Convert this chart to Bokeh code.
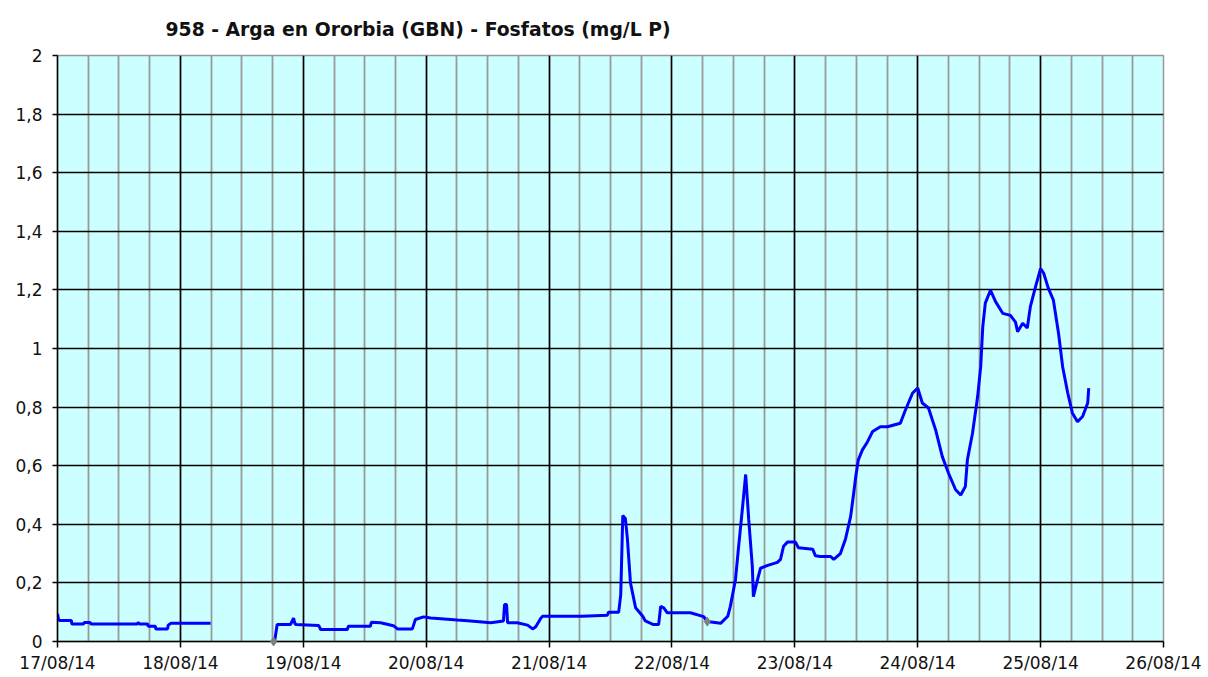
import pandas as pd
from bokeh.plotting import figure
from bokeh.models import FixedTicker, DatetimeTickFormatter, Range1d, ColumnDataSource, CustomJSTickFormatter
from bokeh.embed import file_html
from bokeh.resources import INLINE

title_text = "958 - Arga en Ororbia (GBN) - Fosfatos (mg/L P)"
start_date = "2014-08-17 00:00"
n_days = 9

# hours since 17/08/14 00:00 and values (mg/L P)
hours_a = [0, 0.2, 0.4, 2.7, 2.8, 5.1, 5.2, 6.4, 6.5, 15.6, 15.7, 16.0, 17.6, 17.7,
           19.1, 19.2, 21.5, 21.6, 22.1, 29.9]
values_a = [0.095, 0.075, 0.072, 0.072, 0.06, 0.06, 0.065, 0.065, 0.06, 0.06, 0.065, 0.06,
            0.06, 0.052, 0.052, 0.043, 0.043, 0.055, 0.062, 0.062]

hours_b = [42.4, 42.9, 45.5, 45.7, 46.1, 46.3, 46.5, 51.0, 51.4, 56.6, 56.8, 61.1, 61.3,
           63.1, 65.6, 66.4, 69.3, 69.9, 71.5, 72.9, 78.1, 80.7, 84.6, 87.1, 87.3, 87.7,
           87.9, 89.8, 91.8, 92.8, 93.4, 94.3, 94.7, 102.5, 107.4, 107.6, 109.6, 110.0,
           110.4, 110.9, 111.3, 111.9, 112.9, 114.3, 114.8, 116.4, 117.4, 117.8, 118.4,
           119.1, 121.1, 123.6, 126.2, 126.9, 129.5, 130.9, 131.4, 132.4, 133.0, 133.8,
           134.4, 135.0, 135.7, 135.9, 136.7, 137.3, 138.7, 140.6, 141.2, 141.8, 142.6,
           144.1, 144.7, 147.5, 148.0, 149.0, 151.0, 151.6, 152.9, 153.9, 154.9, 155.5,
           155.9, 156.4, 157.2, 158.2, 159.2, 160.7, 162.1, 164.6, 165.6, 167.0, 168.0,
           168.9, 170.1, 171.5, 172.8, 174.0, 175.4, 176.4, 177.3, 177.7, 178.7, 179.7,
           180.3, 180.7, 181.2, 182.2, 183.2, 184.6, 186.1, 187.1, 187.5, 188.5, 189.4,
           190.0, 191.0, 192.0, 192.6, 193.5, 194.5, 195.5, 196.3, 197.3, 198.2, 199.2,
           200.2, 201.2, 201.4]
values_b = [0.0, 0.058, 0.058, 0.065, 0.08, 0.065, 0.058, 0.055, 0.041, 0.041, 0.052, 0.052,
            0.066, 0.064, 0.054, 0.043, 0.043, 0.075, 0.084, 0.08, 0.073, 0.07, 0.064, 0.07,
            0.126, 0.126, 0.064, 0.064, 0.056, 0.043, 0.05, 0.077, 0.086, 0.086, 0.09, 0.10,
            0.10, 0.16, 0.43, 0.42, 0.35, 0.20, 0.115, 0.086, 0.07, 0.058, 0.058, 0.12, 0.115,
            0.098, 0.098, 0.098, 0.085, 0.068, 0.062, 0.086, 0.12, 0.21, 0.32, 0.46, 0.57,
            0.415, 0.256, 0.153, 0.21, 0.25, 0.26, 0.27, 0.28, 0.325, 0.34, 0.34, 0.32,
            0.315, 0.293, 0.29, 0.29, 0.28, 0.30, 0.35, 0.427, 0.507, 0.563, 0.62, 0.654,
            0.682, 0.717, 0.733, 0.733, 0.745, 0.79, 0.848, 0.865, 0.814, 0.797, 0.722,
            0.631, 0.575, 0.518, 0.50, 0.529, 0.62, 0.711, 0.836, 0.938, 1.074, 1.155, 1.199,
            1.16, 1.12, 1.113, 1.09, 1.057, 1.086, 1.07, 1.143, 1.21, 1.273, 1.257, 1.206,
            1.165, 1.052, 0.938, 0.848, 0.78, 0.75, 0.768, 0.814, 0.865]

marker_hours = [42.2, 126.9]
marker_values = [0.0, 0.068]

y_ticks = [0, 0.2, 0.4, 0.6, 0.8, 1.0, 1.2, 1.4, 1.6, 1.8, 2.0]

start = pd.Timestamp(start_date)


def to_dt(h):
    return start + pd.to_timedelta(pd.Series(h, dtype=float), unit="h")


def ms(ts):
    return ts.value / 1e6


p = figure(width=1206, height=675, x_axis_type="datetime", output_backend="svg",
           toolbar_location=None,
           x_range=Range1d(start, start + pd.Timedelta(days=n_days)),
           y_range=Range1d(0, 2),
           min_border_left=57, min_border_right=43, min_border_top=55, min_border_bottom=33,
           background_fill_color="#CCFFFF", border_fill_color="white",
           outline_line_color="#999999", outline_line_width=1.5)

p.title.text = title_text
p.title.text_font = "DejaVu Sans"
p.title.text_font_size = "18.8px"
p.title.text_font_style = "bold"
p.title.text_color = "#111111"
p.title.align = "left"
p.title.offset = 108
p.title.standoff = 32

day_ticks = [ms(start + pd.Timedelta(days=i)) for i in range(n_days + 1)]
minor_ticks = [ms(start + pd.Timedelta(hours=6 * i)) for i in range(n_days * 4 + 1)]
p.xaxis.ticker = FixedTicker(ticks=day_ticks, minor_ticks=minor_ticks)
fmt = "%d/%m/%y"
p.xaxis.formatter = DatetimeTickFormatter(microseconds=fmt, milliseconds=fmt, seconds=fmt,
                                          minsec=fmt, minutes=fmt, hourmin=fmt, hours=fmt,
                                          days=fmt, months=fmt, years=fmt)
p.yaxis.ticker = FixedTicker(ticks=y_ticks, minor_ticks=[])
p.yaxis.formatter = CustomJSTickFormatter(
    code="return (Math.round(tick*10)/10).toString().replace('.', ',');")

for ax in (p.xaxis, p.yaxis):
    ax.axis_line_color = "black"
    ax.axis_line_width = 1.5
    ax.major_tick_line_color = "black"
    ax.major_tick_line_width = 1.5
    ax.major_tick_in = 0
    ax.minor_tick_line_color = None
    ax.major_label_text_font = "DejaVu Sans"
    ax.major_label_text_font_size = "17px"
    ax.major_label_text_color = "#111111"
p.xaxis.major_tick_out = 6
p.yaxis.major_tick_out = 5
p.xaxis.major_label_standoff = 5
p.yaxis.major_label_standoff = 10

p.xgrid.grid_line_color = "black"
p.xgrid.grid_line_width = 1.5
p.xgrid.minor_grid_line_color = "#999999"
p.xgrid.minor_grid_line_width = 1.8
p.ygrid.grid_line_color = "black"
p.ygrid.grid_line_width = 1.5

src_a = ColumnDataSource(dict(x=to_dt(hours_a), y=values_a))
src_b = ColumnDataSource(dict(x=to_dt(hours_b), y=values_b))
src_m = ColumnDataSource(dict(x=to_dt(marker_hours), y=marker_values))

p.line("x", "y", source=src_a, line_color="#0000FF", line_width=3)
p.line("x", "y", source=src_b, line_color="#0000FF", line_width=3)
p.scatter("x", "y", source=src_m, marker="diamond", size=9, color="#808080", level="overlay")

open("out.html", "w").write(file_html(p, INLINE))
